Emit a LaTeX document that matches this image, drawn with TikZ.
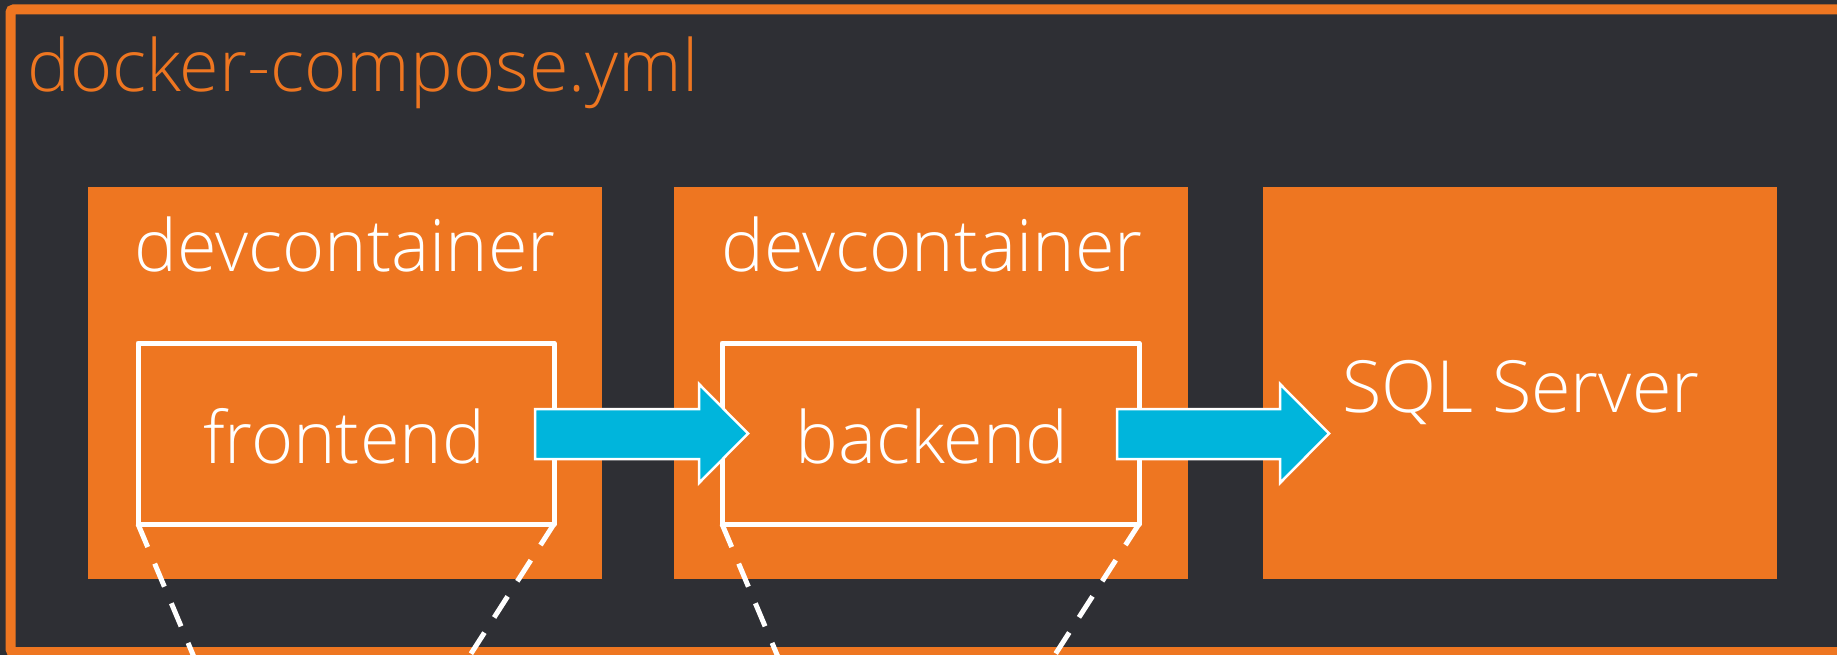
\documentclass[tikz,border=0pt]{standalone}
\usepackage{fontspec}
\setmainfont{Open Sans}[UprightFont=* Light]
\definecolor{bg}{HTML}{2E2F34}
\definecolor{dorange}{HTML}{EE7621}
\definecolor{dcyan}{HTML}{00B5DC}
\tikzset{
  frame/.style={draw=dorange, line width=10pt, rounded corners=3pt},
  container/.style={fill=dorange, draw=none},
  svc/.style={draw=white, line width=5pt, line join=round},
  link/.style={draw=white, line width=5pt, dash pattern=on 25pt off 18pt},
  blockarrow/.style={fill=dcyan, draw=white, line width=2.5pt, line join=miter},
  big/.style={text=white, inner sep=0pt, font=\fontsize{72}{80}\selectfont},
}
\begin{document}
\begin{tikzpicture}[x=1pt,y=-1pt]
\useasboundingbox (0,0) rectangle (1837,655);
\clip (0,0) rectangle (1837,655);
\fill[bg] (0,0) rectangle (1837,655);
\draw[frame] (10.5,9.5) rectangle (1870,652);
\node[anchor=base west, inner sep=0pt, text=dorange, font=\fontsize{72}{80}\selectfont] (title) at (27,92) {docker-compose.yml};

% containers
\fill[container] (88,187) rectangle (602,579);
\fill[container] (674,187) rectangle (1188,579);
\fill[container] (1263,187) rectangle (1777,579);
\node[big, anchor=base] (dc1) at (345,272) {devcontainer};
\node[big, anchor=base] (dc2) at (932,272) {devcontainer};
\node[big, anchor=base] (sql) at (1521,412) {SQL Server};

% services
\draw[svc] (138,343) rectangle (554,524);
\coordinate (fsw) at (138,524); \coordinate (fse) at (554,524);
\draw[svc] (722,343) rectangle (1139,524);
\coordinate (bsw) at (722,524); \coordinate (bse) at (1139,524);
\node[big, anchor=base] (fe) at (344,463) {frontend};
\node[big, anchor=base] (be) at (932,463) {backend};

% dashed callout lines
\coordinate (fz) at (303,916);
\coordinate (bz) at (887,916);
\draw[link] (fsw) -- (fz);
\draw[link] (fse) -- (fz);
\draw[link] (bsw) -- (bz);
\draw[link] (bse) -- (bz);

% arrows
\draw[blockarrow] (535,409) -- (699,409) -- (699,384) -- (748,433.5) -- (699,483) -- (699,459) -- (535,459) -- cycle;
\draw[blockarrow] (1117,409) -- (1280,409) -- (1280,384) -- (1329,433.5) -- (1280,483) -- (1280,459) -- (1117,459) -- cycle;
\end{tikzpicture}
\end{document}
